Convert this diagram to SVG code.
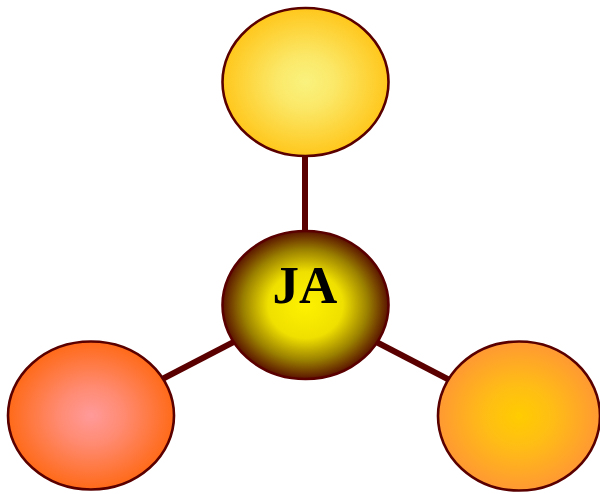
<svg xmlns="http://www.w3.org/2000/svg" width="600" height="494" viewBox="0 0 600 494">
<defs>
<radialGradient id="gTop" cx="0.5" cy="0.5" r="0.5">
<stop offset="0" stop-color="#F9F27E"/>
<stop offset="0.35" stop-color="#FBE868"/>
<stop offset="1" stop-color="#FFC71C"/>
</radialGradient>
<radialGradient id="gCenter" cx="0.5" cy="0.5" r="0.5">
<stop offset="0" stop-color="#FFF200"/>
<stop offset="0.45" stop-color="#F0E000"/>
<stop offset="0.75" stop-color="#9A8000"/>
<stop offset="1" stop-color="#5A1400"/>
</radialGradient>
<radialGradient id="gLeft" cx="0.5" cy="0.5" r="0.5">
<stop offset="0" stop-color="#FF9A9A"/>
<stop offset="0.4" stop-color="#FF8A70"/>
<stop offset="1" stop-color="#FF6A18"/>
</radialGradient>
<radialGradient id="gRight" cx="0.5" cy="0.5" r="0.5">
<stop offset="0" stop-color="#FFCC00"/>
<stop offset="0.4" stop-color="#FFBE14"/>
<stop offset="1" stop-color="#FF9933"/>
</radialGradient>
<style>
.node{stroke:#5A0000;stroke-width:2.6}
.conn{stroke:#5A0000;stroke-width:6;fill:none}
.label{font-family:"Liberation Serif","Times New Roman",serif;font-weight:bold;font-size:53px;fill:#000;text-anchor:middle}
</style>
</defs>
<g id="connectors">
<line class="conn" x1="305" y1="150" x2="305" y2="240"/>
<line class="conn" x1="305" y1="305" x2="91" y2="416"/>
<line class="conn" x1="305" y1="305" x2="519" y2="416"/>
</g>
<g id="node-top">
<ellipse class="node" cx="305.5" cy="82" rx="83" ry="74" fill="url(#gTop)"/>
</g>
<g id="node-left">
<ellipse class="node" cx="91" cy="415.5" rx="83" ry="74" fill="url(#gLeft)"/>
</g>
<g id="node-right">
<ellipse class="node" cx="519" cy="416" rx="81" ry="74.5" fill="url(#gRight)"/>
</g>
<g id="node-center">
<ellipse class="node" cx="305.5" cy="305" rx="83" ry="74" fill="url(#gCenter)"/>
<text class="label" x="305" y="303">JA</text>
</g>
</svg>
